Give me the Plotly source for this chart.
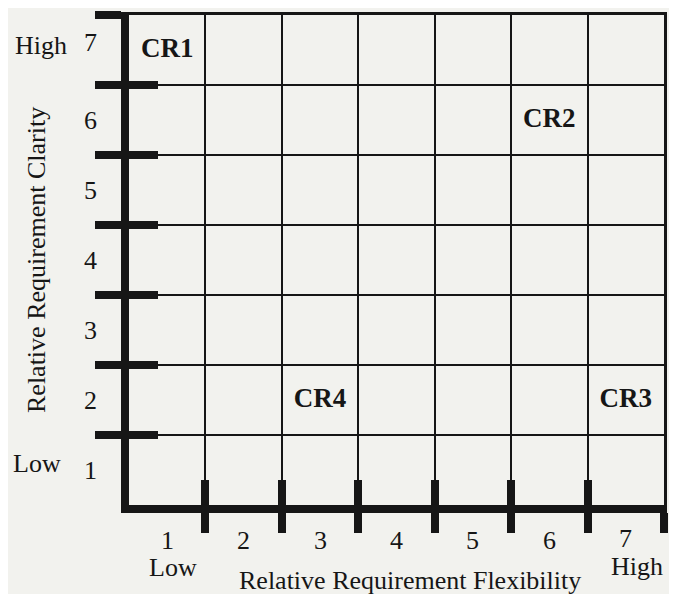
import plotly.graph_objects as go

# ---- data ----
flex_levels = [1, 2, 3, 4, 5, 6, 7]
clarity_levels = [1, 2, 3, 4, 5, 6, 7]
flex_tick_text = ["1", "2", "3", "4", "5", "6", "7"]
clarity_tick_text = ["1", "2", "3", "4", "5", "6", "7"]
cr_names = ["CR1", "CR2", "CR3", "CR4"]
cr_flexibility = [1, 6, 7, 3]
cr_clarity = [7, 6, 2, 2]
x_title = "Relative Requirement Flexibility"
y_title = "Relative Requirement Clarity"
low_label = "Low"
high_label = "High"

# cell boundaries derived from the levels
x_bounds = [v + 0.5 for v in flex_levels]
y_bounds = [v + 0.5 for v in clarity_levels]
x_range = [flex_levels[0] - 0.5, flex_levels[-1] + 0.5]
y_range = [clarity_levels[0] - 0.5, clarity_levels[-1] + 0.5]

INK = "#161616"
BG = "rgb(242,242,238)"
FONT = "Liberation Serif, Times New Roman, serif"

OFF = 8  # page body margin
W, H = 677 - OFF, 594 - OFF
ML, MR, MT, MB = 121, 13, 7, 89
PW = W - ML - MR
PH = H - MT - MB


def px_x(p):
    return (p - OFF - ML) / PW


def px_y(p):
    return (H - MB - (p - OFF)) / PH


fig = go.Figure()

fig.add_trace(go.Scatter(
    x=cr_flexibility, y=cr_clarity, text=cr_names, mode="text",
    textposition="middle center",
    textfont=dict(family=FONT, size=27, color=INK, weight="bold"),
    hoverinfo="skip", showlegend=False, cliponaxis=False,
))
# helper traces so the overlay axes (inner tick halves, top/right frame) exist
for xa, ya in [("x2", "y"), ("x", "y2"), ("x3", "y"), ("x", "y3")]:
    fig.add_trace(go.Scatter(x=cr_flexibility, y=cr_clarity, xaxis=xa, yaxis=ya,
                             mode="markers", marker=dict(opacity=0),
                             hoverinfo="skip", showlegend=False))

common = dict(showticklabels=False, zeroline=False, fixedrange=True,
              tickcolor=INK, tickwidth=8, linecolor=INK, linewidth=8,
              showline=True, tickmode="array")
frame = dict(showticklabels=False, zeroline=False, fixedrange=True, ticks="",
             showgrid=False, showline=True, linecolor=INK, linewidth=2.5)

fig.update_layout(
    width=W, height=H,
    margin=dict(l=ML, r=MR, t=MT, b=MB),
    paper_bgcolor=BG, plot_bgcolor=BG,
    showlegend=False,
    xaxis=dict(range=x_range, tickvals=x_bounds, ticks="outside", ticklen=20,
               showgrid=True, gridcolor=INK, gridwidth=2, anchor="y", **common),
    xaxis2=dict(range=x_range, tickvals=x_bounds, ticks="inside", ticklen=25,
                showgrid=False, overlaying="x", anchor="y", side="bottom", **common),
    xaxis3=dict(range=x_range, overlaying="x", anchor="y", side="top", **frame),
    yaxis=dict(range=y_range, tickvals=y_bounds, ticks="outside", ticklen=26,
               showgrid=True, gridcolor=INK, gridwidth=2, anchor="x", **common),
    yaxis2=dict(range=y_range, tickvals=y_bounds, ticks="inside", ticklen=29,
                showgrid=False, overlaying="y", anchor="x", side="left", **common),
    yaxis3=dict(range=y_range, overlaying="y", anchor="x", side="right", **frame),
)

ann = []
tf = dict(family=FONT, size=26, color=INK)
base = dict(showarrow=False, xanchor="center", yanchor="middle", font=tf, borderpad=0)
# x tick labels
for v, t in zip(flex_levels, flex_tick_text):
    ann.append(dict(x=v, y=px_y(540), xref="x", yref="paper", text=t,
                    yshift=2 if v == flex_levels[-1] else 0, **base))
# y tick labels
for v, t in zip(clarity_levels, clarity_tick_text):
    ann.append(dict(x=px_x(90), y=v, xref="paper", yref="y", text=t,
                    yshift=8 if v == clarity_levels[-1] else 0, **base))
# Low / High markers
ann.append(dict(x=px_x(173), y=px_y(567), xref="paper", yref="paper", text=low_label, **base))
ann.append(dict(x=px_x(637), y=px_y(566), xref="paper", yref="paper", text=high_label, **base))
ann.append(dict(x=px_x(41), y=px_y(46), xref="paper", yref="paper", text=high_label, **base))
ann.append(dict(x=px_x(37), y=px_y(463), xref="paper", yref="paper", text=low_label, **base))
# axis titles
ann.append(dict(x=px_x(410), y=px_y(580), xref="paper", yref="paper", text=x_title, **base))
ann.append(dict(x=px_x(36), y=px_y(260), xref="paper", yref="paper", text=y_title,
                textangle=-90, **base))
fig.update_layout(annotations=ann)

fig.write_html("out.html")
